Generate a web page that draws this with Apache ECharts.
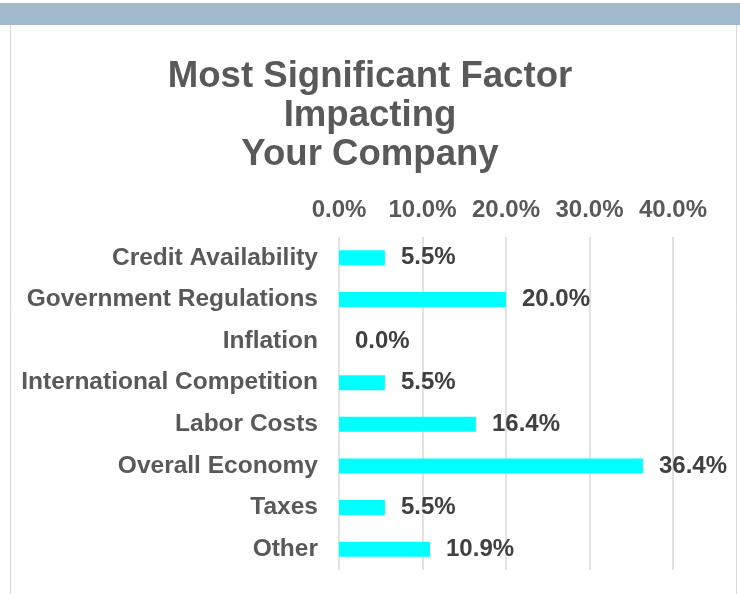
<!DOCTYPE html>
<html>
<head>
<meta charset="utf-8">
<script src="https://cdn.jsdelivr.net/npm/echarts@6/dist/echarts.min.js"></script>
<style>
  html, body { margin: 0; padding: 0; background: #fff; }
  #chart { width: 740px; height: 594px; }
</style>
</head>
<body>
<div id="chart"></div>
<script>
const categories = ['Credit Availability', 'Government Regulations', 'Inflation', 'International Competition',
  'Labor Costs', 'Overall Economy', 'Taxes', 'Other']
const shares = [5.5, 20.0, 0.0, 5.5, 16.4, 36.4, 5.5, 10.9]
const tickMax = 40
const tickStep = 10

const font = 'Liberation Sans, Arial, sans-serif'
let myChart = echarts.init(document.getElementById('chart'))

let options = {
  animation: false,
  title: {
    text: 'Most Significant Factor\nImpacting\nYour Company',
    left: 'center',
    top: 52,
    textStyle: {
      fontFamily: font,
      fontSize: 36.6,
      fontWeight: 'bold',
      color: '#595959',
      lineHeight: 39
    }
  },
  graphic: [
    // header band and frame lines
    { type: 'rect', shape: { x: 0, y: 3, width: 740, height: 22 }, style: { fill: '#A0B9CC' } },
    { type: 'line', shape: { x1: 10.5, y1: 25, x2: 10.5, y2: 594 }, style: { stroke: '#d9d9d9', lineWidth: 1 } },
    { type: 'line', shape: { x1: 736.5, y1: 25, x2: 736.5, y2: 594 }, style: { stroke: '#d9d9d9', lineWidth: 1 } }
  ],
  grid: {
    left: 339,
    right: 67,
    top: 237,
    bottom: 24,
    containLabel: false
  },
  xAxis: {
    type: 'value',
    position: 'top',
    min: 0,
    max: tickMax,
    interval: tickStep,
    axisLine: { show: false },
    axisTick: { show: false },
    axisLabel: {
      margin: 15,
      fontFamily: font,
      fontSize: 24,
      fontWeight: 'bold',
      color: '#595959',
      formatter: v => v.toFixed(1) + '%'
    },
    splitLine: { lineStyle: { color: '#d9d9d9', width: 1.5 } }
  },
  yAxis: {
    type: 'category',
    inverse: true,
    data: categories,
    axisLine: { show: false },
    axisTick: { show: false },
    axisLabel: {
      margin: 21,
      fontFamily: font,
      fontSize: 24.5,
      fontWeight: 'bold',
      color: '#595959'
    }
  },
  series: [
    {
      type: 'bar',
      data: shares,
      barWidth: 15,
      itemStyle: { color: '#00FFFF' },
      label: {
        show: true,
        position: 'right',
        distance: 16,
        fontFamily: font,
        fontSize: 24,
        fontWeight: 'bold',
        color: '#404040',
        formatter: p => p.value.toFixed(1) + '%'
      }
    }
  ]
}
myChart.setOption(options)
</script>
</body>
</html>
